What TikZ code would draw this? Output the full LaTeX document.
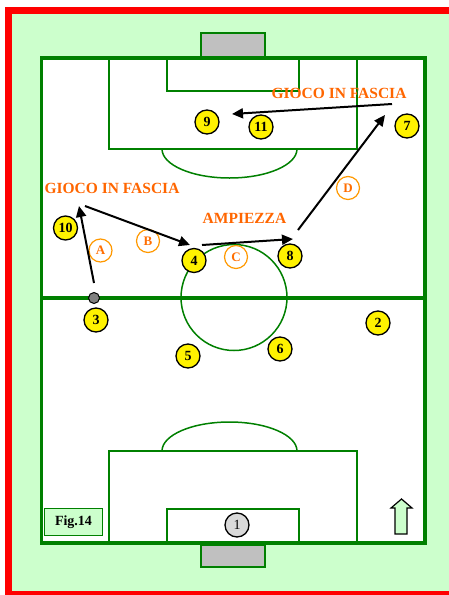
\documentclass[tikz,border=0pt]{standalone}
\usepackage{fontspec}
\setmainfont{Liberation Serif}
\usetikzlibrary{arrows.meta}
\definecolor{PitchGreen}{RGB}{0,128,0}
\definecolor{MintBack}{RGB}{204,255,204}
\definecolor{GoalGray}{RGB}{192,192,192}
\definecolor{CallOrange}{RGB}{255,102,0}
\definecolor{TagOrange}{RGB}{255,153,0}

\begin{document}
\begin{tikzpicture}[x=1pt, y=-1pt, >={Triangle[length=11pt,width=10pt]},
    player/.style={circle, draw, line width=1.3pt, fill=yellow, minimum size=24pt, inner sep=0pt, font=\bfseries\fontsize{14}{14}\selectfont},
    phase/.style={circle, draw=TagOrange, line width=1.2pt, text=CallOrange!85!TagOrange, minimum size=23pt, inner sep=0pt, font=\bfseries\fontsize{13}{13}\selectfont},
    call/.style={text=CallOrange, font=\bfseries\fontsize{15.5}{18}\selectfont},
    pitchline/.style={PitchGreen, line width=1.5pt},
    pass/.style={->, line width=2pt}]
  \useasboundingbox (0,0) rectangle (449,595);
  \clip (0,0) rectangle (449,595);
  % frame and pitch
  \draw[red, line width=7pt, fill=MintBack] (8.5,10.5) rectangle (470,594.5);
  \draw[PitchGreen, line width=3.5pt, fill=white] (41.5,58) rectangle (425,543);
  \draw[PitchGreen, line width=4pt] (41.5,297.5) -- (425,297.5);
  \draw[pitchline] (234,297.5) circle [radius=53];
  % top half
  \draw[pitchline] (109,58) rectangle (357,149);
  \draw[pitchline] (167,58) rectangle (299,91);
  \draw[pitchline, fill=GoalGray] (201,33) rectangle (265,57);
  \draw[pitchline] (162,149) arc [start angle=180, end angle=0, x radius=67.5, y radius=29];
  % bottom half
  \draw[pitchline] (109,543) rectangle (357,451);
  \draw[pitchline] (167,543) rectangle (299,509);
  \draw[pitchline, fill=GoalGray] (201,545) rectangle (265,567);
  \draw[pitchline] (162,451) arc [start angle=180, end angle=360, x radius=67.5, y radius=29];

  % players
  \node[player, fill=gray!30, font=\fontsize{14}{14}\selectfont] (p1) at (237,525) {1};
  \node[player] (p2) at (378,323) {2};
  \node[player] (p3) at (96,320) {3};
  \node[player] (p4) at (194,260.5) {4};
  \node[player] (p5) at (188,356) {5};
  \node[player] (p6) at (280,349) {6};
  \node[player] (p7) at (407,126) {7};
  \node[player] (p8) at (290,256) {8};
  \node[player] (p9) at (207,122) {9};
  \node[player] (p10) at (65.5,228) {10};
  \node[player] (p11) at (261,127) {11};
  \node[circle, draw, fill=gray, line width=1pt, minimum size=11pt, inner sep=0pt] (ball) at (94,298) {};

  % phases of play
  \node[phase] (tA) at (100.5,250.5) {A};
  \node[phase] (tB) at (148,241) {B};
  \node[phase] (tC) at (236,257) {C};
  \node[phase] (tD) at (348,188) {D};
  \node[call] (wingL) at (112,188) {GIOCO IN FASCIA};
  \node[call] (width) at (244.5,218) {AMPIEZZA};
  \node[call] (wingR) at (339,93) {GIOCO IN FASCIA};

  \coordinate (a0) at (94,283);  \coordinate (a1) at (79,206);
  \coordinate (b0) at (85,206);  \coordinate (b1) at (190,245);
  \coordinate (c0) at (202,245); \coordinate (c1) at (293,239);
  \coordinate (d0) at (298,230); \coordinate (d1) at (385,115);
  \coordinate (e0) at (392,104); \coordinate (e1) at (232,114);
  \draw[pass] (a0) -- (a1);
  \draw[pass] (b0) -- (b1);
  \draw[pass] (c0) -- (c1);
  \draw[pass] (d0) -- (d1);
  \draw[pass] (e0) -- (e1);

  % legend and direction of play
  \node[draw=PitchGreen, line width=1.8pt, fill=MintBack, minimum width=58pt, minimum height=27pt, inner sep=0pt, font=\bfseries\fontsize{14}{14}\selectfont] (fig) at (73.5,522) {Fig.14};
  \draw[line width=1.2pt, fill=MintBack] (395,534) -- (395,508) -- (391,508) -- (401.5,499)
    -- (412,508) -- (407,508) -- (407,534) -- cycle;
\end{tikzpicture}
\end{document}
